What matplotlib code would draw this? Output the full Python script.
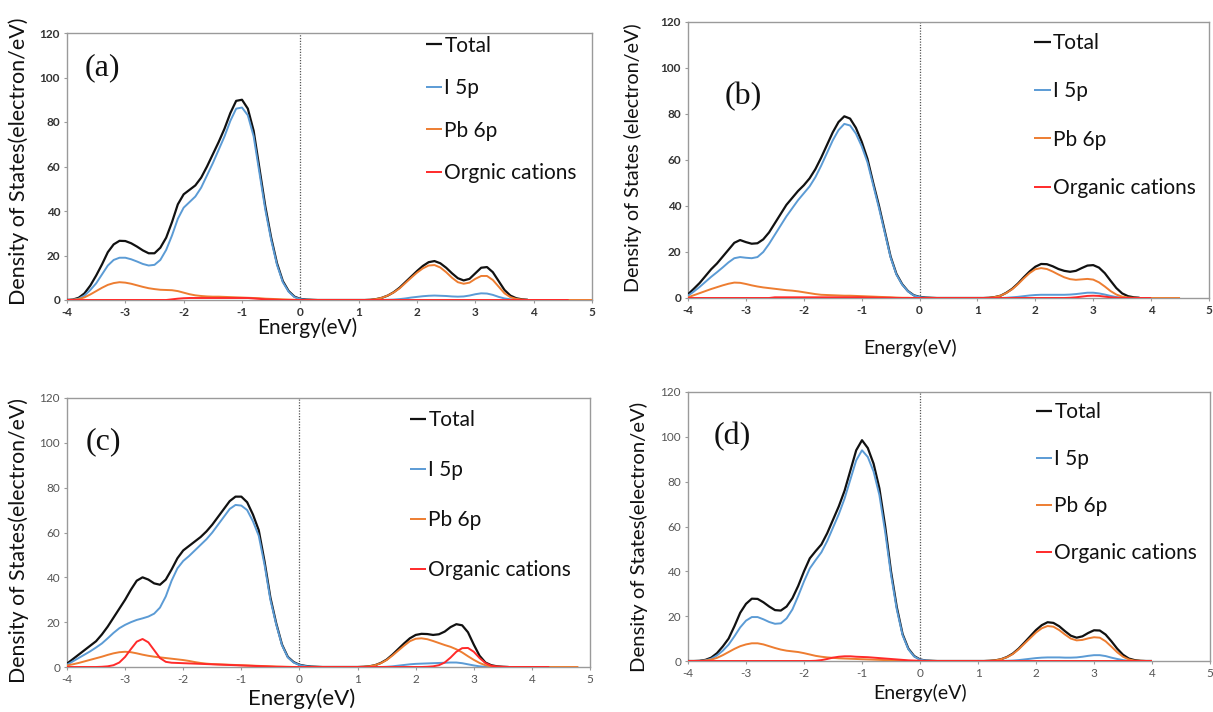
import numpy as np
import matplotlib
matplotlib.use("Agg")
import matplotlib.pyplot as plt

# ---------------- data (energy grid: -4.0 eV, step 0.1 eV) ----------------
E_START = -4.0
E_STEP = 0.1
xticks = [-4, -3, -2, -1, 0, 1, 2, 3, 4, 5]
yticks = [0, 20, 40, 60, 80, 100, 120]

# panel (a)
a_total = [0, 0.2, 1, 3, 6.5, 11, 16, 21.5, 25, 26.6, 26.5, 25.5, 24, 22.3, 21, 21, 23.5, 28, 35, 43,
           47.5, 49.5, 51.5, 55, 60, 65.5, 71, 77, 84, 89.5, 90, 86, 76, 59, 42, 28, 16.5, 8.5, 4, 1.5, 0.5,
           0.2, 0.1, 0, 0, 0, 0, 0, 0, 0,
           0, 0, 0.1, 0.4, 1, 2, 3.5, 5.5, 8, 10.5, 13, 15.3, 17, 17.5, 16.5, 14.5, 12, 9.8, 8.8, 9.5,
           12, 14.5, 14.8, 12.5, 8.5, 4.5, 2, 0.8, 0.3, 0.1]
a_i5p = [0, 0.1, 0.6, 2, 4.5, 7.5, 11.5, 15.5, 18, 19, 19, 18.3, 17.3, 16.2, 15.5, 15.8, 18, 22.5, 29, 36.5,
         41.5, 44, 46.5, 50.5, 56, 61.5, 67.5, 73.5, 80.5, 86, 86.5, 83, 73.5, 57, 40.5, 27, 15.8, 8, 3.7, 1.3, 0.4,
         0.1, 0, 0, 0, 0, 0, 0, 0, 0,
         0, 0, 0, 0, 0, 0.1, 0.2, 0.4, 0.7, 1.1, 1.4, 1.7, 1.9, 2.0, 1.9, 1.8, 1.6, 1.5, 1.6, 2.0,
         2.6, 3.0, 2.9, 2.3, 1.4, 0.7, 0.3, 0.1, 0, 0]
a_pb6p = [0, 0.1, 0.4, 1.2, 2.5, 4, 5.5, 6.8, 7.6, 8, 7.8, 7.3, 6.6, 5.9, 5.3, 4.9, 4.6, 4.5, 4.4, 4.0,
          3.3, 2.6, 2.1, 1.8, 1.6, 1.5, 1.5, 1.4, 1.3, 1.2, 1.1, 1.0, 0.9, 0.8, 0.6, 0.5, 0.4, 0.3, 0.2, 0.1, 0,
          0, 0, 0, 0, 0, 0, 0, 0, 0,
          0, 0, 0.1, 0.4, 1, 2, 3.4, 5.2, 7.6, 10, 12.3, 14.2, 15.5, 15.7, 14.6, 12.5, 10, 8, 7.3, 7.8,
          9.5, 10.8, 10.8, 9, 6, 3, 1.3, 0.5, 0.2, 0,
          0, 0, 0, 0, 0, 0, 0, 0, 0, 0, 0]
a_org = ([0] * 18 + [0.3, 0.6, 0.8] + [0.9] * 11 + [0.7, 0.5, 0.3, 0.2, 0.1] + [0] * 4 + [0] * 46)

# panel (b)
b_total = [1.6, 4, 6.5, 9.5, 12.5, 15, 18, 21, 24, 25.2, 24.3, 23.6, 23.8, 25.5, 28.5, 32.5, 36.5, 40.5, 43.5, 46.5,
           49, 52, 56, 61, 66.5, 72, 76.5, 79, 78, 74, 68, 60.5, 50, 40, 29, 18, 10.5, 6, 3, 1.2, 0.5,
           0.2, 0.1, 0, 0, 0, 0, 0, 0, 0,
           0, 0, 0.1, 0.4, 1, 2.3, 4, 6.3, 9, 11.5, 13.6, 14.8, 14.7, 13.8, 12.6, 11.8, 11.4, 11.8, 13, 14.1,
           14.3, 13.2, 10.8, 7.5, 4.3, 2, 0.8, 0.3, 0.1]
b_i5p = [1, 2.8, 4.8, 7, 9.2, 11.2, 13.3, 15.5, 17.3, 17.8, 17.5, 17.3, 17.8, 20, 23.5, 27.5, 31.5, 35.5, 39, 42.5,
         45.5, 48.5, 52.5, 57.5, 63, 68.5, 73, 75.7, 75, 71.5, 66, 59, 49, 39, 28.3, 17.6, 10.2, 5.8, 2.9, 1.1, 0.4,
         0.1, 0, 0, 0, 0, 0, 0, 0, 0,
         0, 0, 0, 0, 0, 0.1, 0.3, 0.5, 0.8, 1.1, 1.3, 1.4, 1.4, 1.4, 1.4, 1.4, 1.5, 1.7, 2.0, 2.3,
         2.3, 2.0, 1.5, 0.9, 0.4, 0.1, 0, 0]
b_pb6p = [0.3, 1.2, 2.1, 3, 3.9, 4.7, 5.5, 6.2, 6.7, 6.6, 6.1, 5.5, 5, 4.6, 4.3, 4, 3.7, 3.4, 3.2, 2.9,
          2.5, 2.1, 1.7, 1.4, 1.3, 1.2, 1.1, 1.0, 1.0, 0.9, 0.8, 0.7, 0.6, 0.5, 0.4, 0.3, 0.2, 0.1, 0.1, 0, 0,
          0, 0, 0, 0, 0, 0, 0, 0, 0,
          0, 0, 0.1, 0.4, 1, 2.2, 3.8, 6, 8.5, 10.8, 12.5, 13, 12.6, 11.5, 10.2, 9, 8.2, 7.9, 8.1, 8.3,
          8, 6.8, 5, 3, 1.5, 0.6, 0.2, 0.1, 0, 0, 0, 0, 0, 0, 0, 0]
b_org = ([0] * 15 + [0.3] * 16 + [0.2, 0.2, 0.1, 0.1, 0.1, 0, 0, 0, 0, 0] + [0] * 9 +
         [0] * 16 + [0.1, 0.3, 0.6, 0.9, 1.0, 0.9, 0.6, 0.3, 0.1] + [0] * 6)

# panel (c)
c_total = [1.5, 3.5, 5.5, 7.5, 9.5, 11.5, 14.5, 18, 22, 26, 30, 34.5, 38.5, 40, 39, 37.3, 36.7, 39, 43.5, 48.5,
           52, 54, 56, 58, 60.5, 63.5, 67, 70.5, 74, 76, 76, 73.5, 68, 61, 47, 31, 19.5, 10, 4.5, 2.2, 1,
           0.5, 0.2, 0.1, 0, 0, 0, 0, 0, 0,
           0, 0.1, 0.3, 0.8, 1.8, 3.3, 5.5, 8, 10.5, 12.8, 14.3, 14.8, 14.7, 14.3, 14.6, 15.8, 17.8, 19.1, 18.6, 15.5,
           10, 5, 2, 0.8, 0.3, 0.1, 0]
c_i5p = [1, 2.5, 4, 5.5, 7, 8.7, 10.5, 12.8, 15.2, 17.3, 18.8, 20, 21, 21.7, 22.5, 23.8, 26.5, 31.5, 38.5, 44,
         47.3, 49.5, 52, 54.5, 57, 60, 63.5, 67, 70.5, 72.3, 72, 70, 65, 58.5, 45.5, 30, 19, 9.7, 4.3, 2, 0.9,
         0.4, 0.1, 0, 0, 0, 0, 0, 0, 0,
         0, 0, 0, 0, 0, 0.1, 0.3, 0.6, 0.9, 1.2, 1.4, 1.5, 1.6, 1.7, 1.8, 1.9, 2.0, 2.0, 1.7, 1.2,
         0.7, 0.3, 0.1, 0, 0, 0, 0]
c_pb6p = [0.7, 1.2, 1.8, 2.5, 3.2, 3.9, 4.6, 5.4, 6.1, 6.6, 6.8, 6.6, 6.1, 5.5, 5, 4.6, 4.3, 4, 3.7, 3.4,
          3.1, 2.7, 2.2, 1.8, 1.5, 1.3, 1.2, 1.1, 1, 0.9, 0.8, 0.7, 0.6, 0.5, 0.4, 0.3, 0.2, 0.1, 0.1, 0, 0,
          0, 0, 0, 0, 0, 0, 0, 0, 0,
          0, 0.1, 0.3, 0.8, 1.7, 3.1, 5.1, 7.3, 9.5, 11.5, 12.6, 12.8, 12.4, 11.6, 10.7, 9.8, 9, 7.9, 6.5, 4.8,
          3.2, 1.8, 0.8, 0.3, 0.1] + [0] * 14
c_org = ([0] * 6 + [0.1, 0.3, 0.8, 2, 4.5, 8, 11.3, 12.5, 11, 7.5, 4, 2.3, 1.9, 1.8, 1.7, 1.6, 1.5, 1.4, 1.3, 1.2,
                    1.1, 1.0, 0.9, 0.8, 0.7, 0.6, 0.5, 0.4, 0.3, 0.2, 0.1, 0.1] + [0] * 3 + [0] * 9 +
         [0] * 12 + [0.1, 0.3, 0.8, 2, 4.2, 6.8, 8.4, 8.5, 6.8, 4, 1.8, 0.6, 0.2, 0.1] + [0] * 8)

# panel (d)
d_total = [0, 0, 0.1, 0.5, 1.5, 3.5, 6.5, 10, 15.5, 21.5, 25.5, 27.8, 27.7, 26.2, 24.3, 22.7, 22.5, 24.3, 28, 33.5,
           40, 45.8, 49, 52, 57, 63, 69, 76, 85, 94, 98.5, 95, 88, 77, 60, 40, 24, 12, 5.5, 2.2, 0.7,
           0.2, 0.1, 0, 0, 0, 0, 0, 0, 0,
           0, 0, 0.1, 0.3, 0.8, 1.8, 3.3, 5.5, 8.2, 11, 13.8, 16, 17.3, 17, 15.5, 13.3, 11.3, 10.4, 11, 12.5,
           13.7, 13.6, 11.8, 8.8, 5.5, 2.8, 1.1, 0.4, 0.1, 0, 0]
d_i5p = [0, 0, 0, 0.3, 1, 2.5, 4.6, 7.3, 11, 15, 18, 19.6, 19.6, 18.6, 17.4, 16.6, 16.8, 19, 23, 29,
         35.5, 41.3, 45, 48.5, 53.5, 59.5, 65.5, 72.5, 81, 89.5, 94, 91, 84.5, 74, 57.5, 38.5, 23, 11.5, 5.2, 2, 0.6,
         0.2, 0, 0, 0, 0, 0, 0, 0, 0,
         0, 0, 0, 0, 0, 0.1, 0.2, 0.4, 0.7, 1.0, 1.3, 1.5, 1.6, 1.6, 1.6, 1.5, 1.5, 1.6, 1.9, 2.3,
         2.6, 2.6, 2.2, 1.5, 0.9, 0.4, 0.1, 0, 0, 0, 0]
d_pb6p = [0, 0, 0, 0.2, 0.6, 1.4, 2.6, 4, 5.4, 6.6, 7.4, 7.9, 7.9, 7.4, 6.6, 5.8, 5.1, 4.6, 4.3, 4.0,
          3.5, 2.9, 2.3, 1.9, 1.6, 1.4, 1.2, 1.1, 1.0, 0.9, 0.8, 0.7, 0.6, 0.5, 0.4, 0.3, 0.2, 0.1, 0, 0, 0,
          0, 0, 0, 0, 0, 0, 0, 0, 0,
          0, 0, 0.1, 0.3, 0.8, 1.7, 3.1, 5.2, 7.7, 10.2, 12.7, 14.6, 15.6, 15.3, 13.8, 11.8, 10, 9.2, 9.4, 10.1,
          10.6, 10.4, 8.8, 6.4, 3.9, 1.9, 0.7, 0.2, 0.1, 0, 0]
d_org = ([0] * 22 + [0.1, 0.4, 0.9, 1.5, 1.9, 2.1, 2.1, 1.9, 1.8, 1.7, 1.5, 1.3, 1.1, 0.9, 0.7, 0.5, 0.3, 0.2, 0.1]
         + [0] * 40)

panel_tags = ["(a)", "(b)", "(c)", "(d)"]
series_labels = [
    ["Total", "I 5p", "Pb 6p", "Orgnic cations"],
    ["Total", "I 5p", "Pb 6p", "Organic cations"],
    ["Total", "I 5p", "Pb 6p", "Organic cations"],
    ["Total", "I 5p", "Pb 6p", "Organic cations"],
]
panel_data = [
    [a_total, a_i5p, a_pb6p, a_org],
    [b_total, b_i5p, b_pb6p, b_org],
    [c_total, c_i5p, c_pb6p, c_org],
    [d_total, d_i5p, d_pb6p, d_org],
]
ylabels = ["Density of States(electron/eV)", "Density of States (electron/eV)",
           "Density of States(electron/eV)", "Density of States(electron/eV)"]
xlabel = "Energy(eV)"

# ---------------- style / layout ----------------
colors = ["#111111", "#5B9BD5", "#ED7D31", "#FF2A2A"]
widths = [1.6, 1.4, 1.4, 1.4]
SANS = ["Lato", "DejaVu Sans"]
SERIF = ["Liberation Serif", "DejaVu Serif"]
plt.rcParams["font.family"] = SANS

W, H = 1213, 712
fig = plt.figure(figsize=(W / 100, H / 100), dpi=100)

def px_axes(l, r, t, b):
    return [l / W, 1 - b / H, (r - l) / W, (b - t) / H]

rects = [px_axes(67, 592, 33, 300), px_axes(688, 1209, 22, 298),
         px_axes(67, 590, 398, 667), px_axes(688, 1210, 392, 661)]
tick_bold = ["bold", "bold", "normal", "normal"]
tick_color = ["#333333", "#333333", "#555555", "#555555"]
ylab_pos = [(-0.092, 0.52), (-0.106, 0.51), (-0.092, 0.47), (-0.094, 0.46)]
ylab_size = [15.5, 14.2, 15.3, 14.6]
xlab_pos = [(0.457, -0.102), (0.426, -0.181), (0.449, -0.118), (0.444, -0.118)]
xlab_size = [15, 14, 16, 14]
leg_pos = [(0.683, 0.99), (0.664, 0.96), (0.655, 0.955), (0.666, 0.962)]
leg_space = [1.08, 1.36, 1.44, 1.3]
tag_pos = [(0.034, 0.869), (0.071, 0.728), (0.036, 0.836), (0.05, 0.836)]

for k in range(4):
    ax = fig.add_axes(rects[k])
    handles = []
    for s in range(4):
        vals = np.asarray(panel_data[k][s], dtype=float)
        xs = E_START + E_STEP * np.arange(len(vals))
        h, = ax.plot(xs, vals, color=colors[s], lw=widths[s], label=series_labels[k][s],
                     solid_capstyle="butt", solid_joinstyle="round", zorder=3 + s)
        handles.append(h)
    ax.axvline(0, color="#555555", lw=0.9, ls=(0, (1, 1.2)), zorder=2)
    ax.set_xlim(-4, 5)
    ax.set_ylim(0, 120)
    ax.set_xticks(xticks)
    ax.set_yticks(yticks)
    ax.set_xticklabels([str(t) for t in xticks])
    for sp in ax.spines.values():
        sp.set_color("#9a9a9a")
        sp.set_linewidth(1.0)
    ax.tick_params(axis="both", length=2.5, width=0.8, color="#9a9a9a",
                   labelsize=8.5, labelcolor=tick_color[k], pad=2.5)
    for lab in ax.get_xticklabels() + ax.get_yticklabels():
        lab.set_fontweight(tick_bold[k])
    ax.set_ylabel(ylabels[k], fontsize=ylab_size[k], color="#111111", va="center")
    ax.yaxis.set_label_coords(*ylab_pos[k])
    ax.set_xlabel(xlabel, fontsize=xlab_size[k], color="#111111", va="center")
    ax.xaxis.set_label_coords(*xlab_pos[k])
    ax.text(tag_pos[k][0], tag_pos[k][1], panel_tags[k], transform=ax.transAxes,
            fontsize=23, family=SERIF, ha="left", va="center", color="#111111")
    leg = ax.legend(handles=handles, loc="upper left", bbox_to_anchor=leg_pos[k],
                    frameon=False, fontsize=15, handlelength=0.8, handletextpad=0.1,
                    labelspacing=leg_space[k], borderpad=0, borderaxespad=0)
    for t in leg.get_texts():
        t.set_color("#111111")

fig.savefig("out.png", dpi=100)
